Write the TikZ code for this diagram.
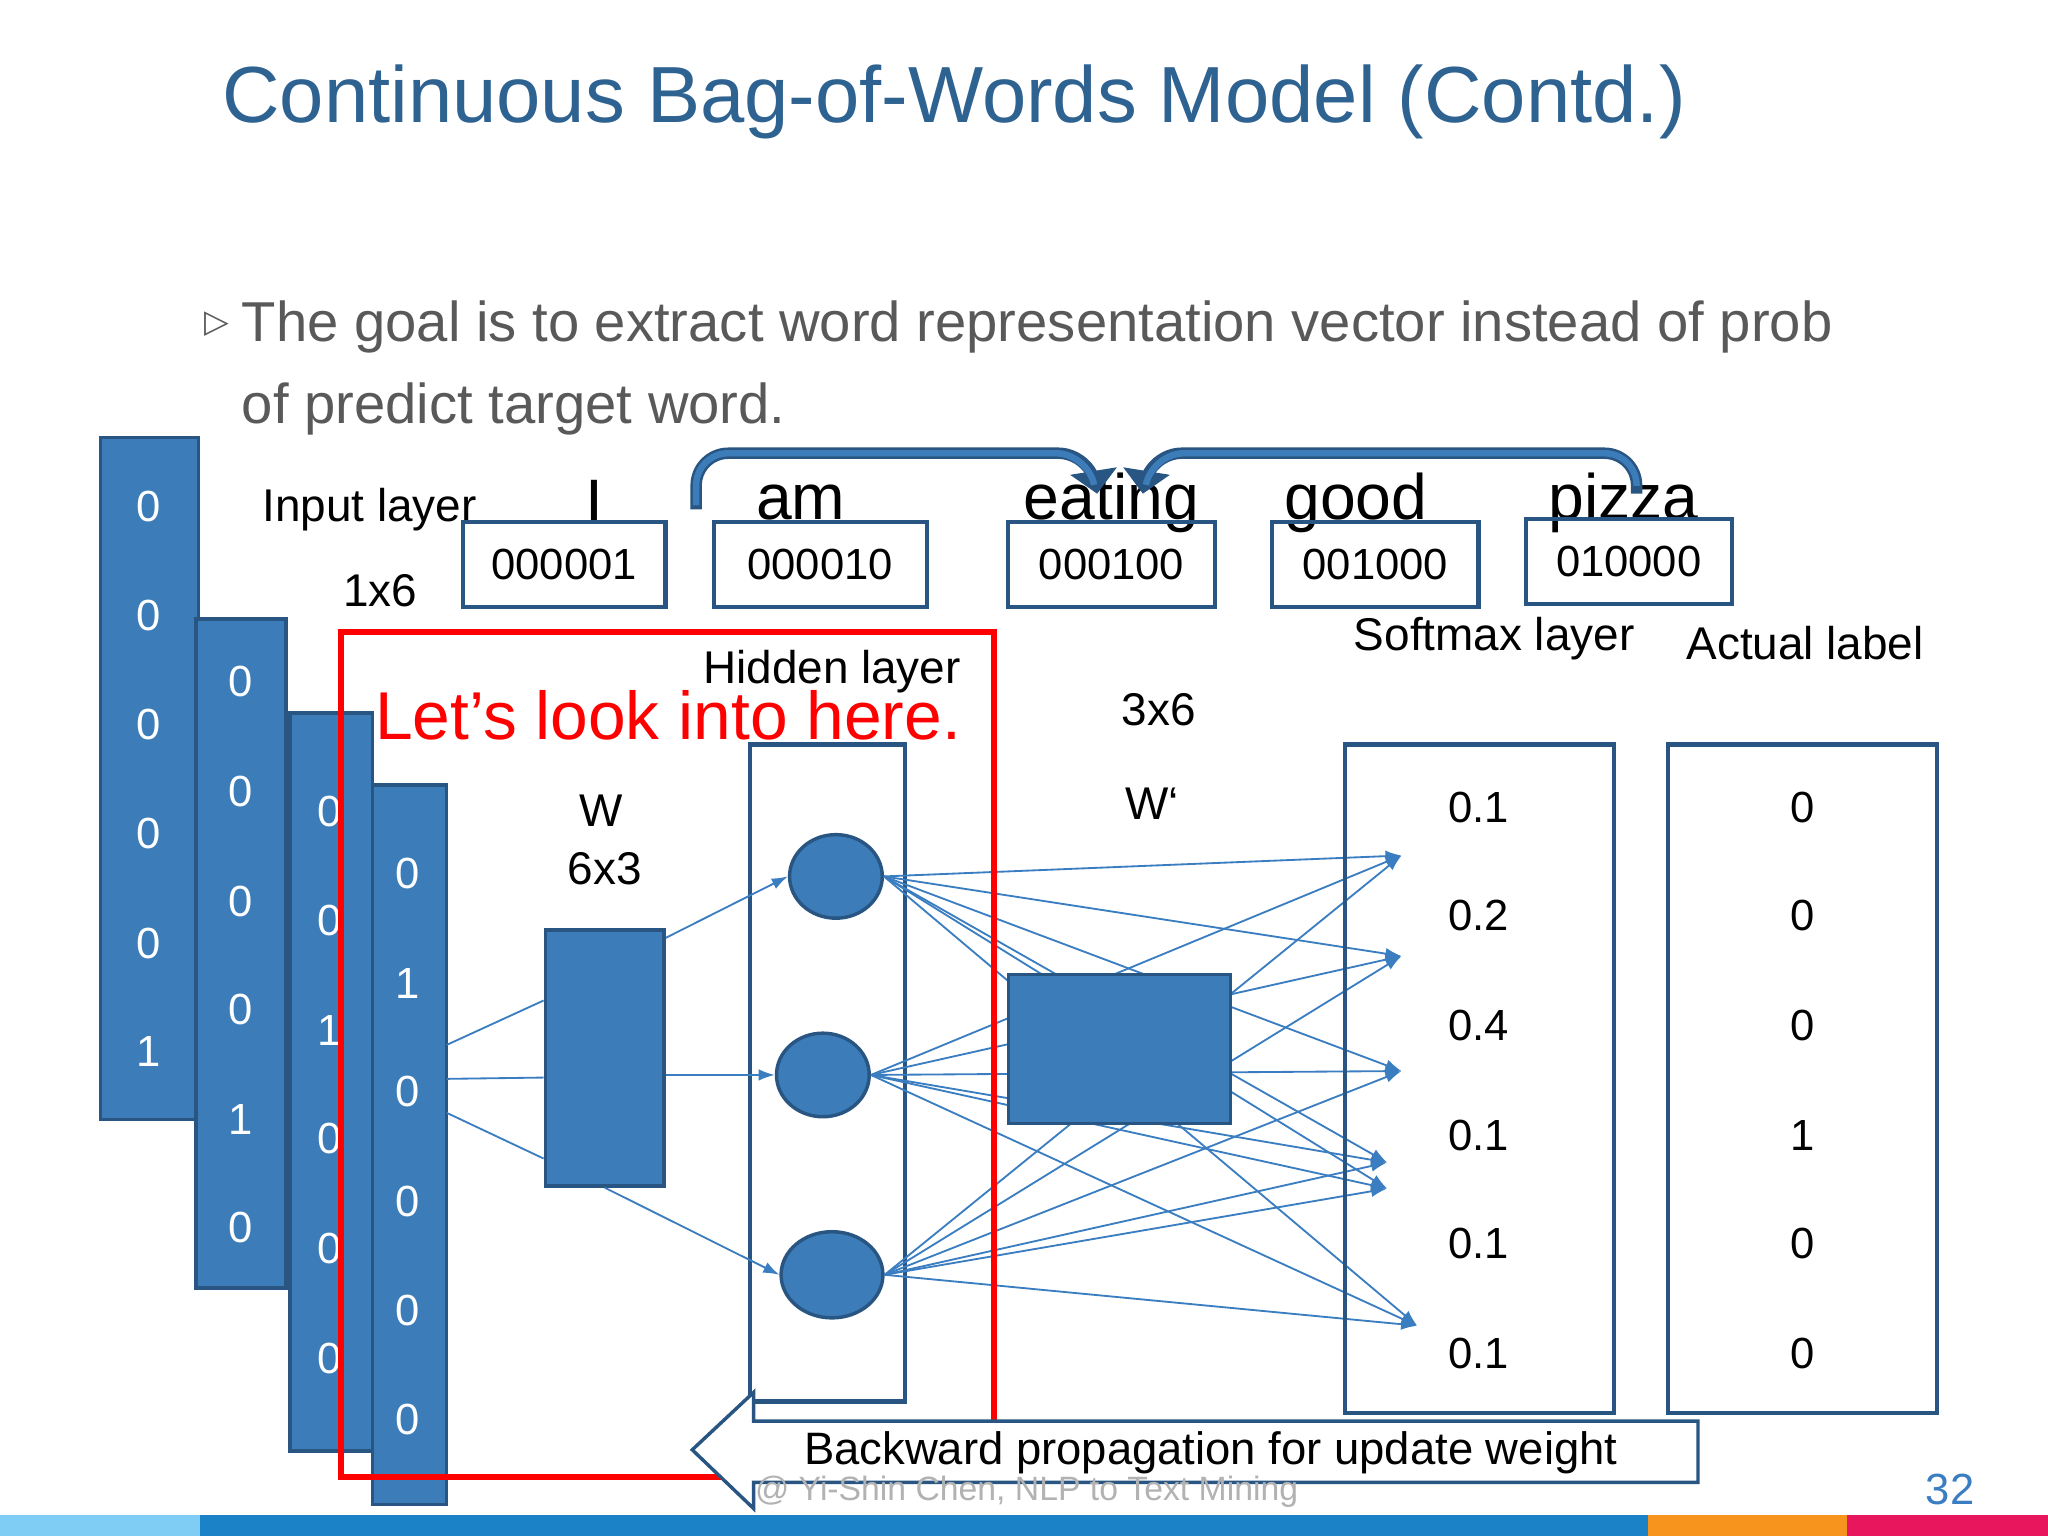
\documentclass[tikz,border=0pt]{standalone}
\usepackage{fontspec}
\setmainfont{Liberation Sans}
\newfontfamily\symfont{DejaVu Sans}
\usetikzlibrary{arrows.meta,shapes.geometric}
\definecolor{tblue}{RGB}{46,98,145}
\definecolor{fillb}{RGB}{60,125,185}
\definecolor{edgeb}{RGB}{40,85,130}
\definecolor{lineb}{RGB}{58,125,192}
\definecolor{gtxt}{RGB}{89,89,89}
\definecolor{barA}{RGB}{127,204,245}
\definecolor{barB}{RGB}{27,130,200}
\definecolor{barC}{RGB}{247,148,29}
\definecolor{barD}{RGB}{232,23,93}
\tikzset{
 vec/.style={draw=edgeb,fill=fillb,line width=1.5pt},
 vtxt/.style={text=white,font=\fontsize{19}{19}\selectfont},
 codebox/.style={draw=edgeb,line width=1.8pt,minimum width=3.1cm,minimum height=1.3cm,font=\fontsize{19}{19}\selectfont},
 lbl/.style={font=\fontsize{20}{20}\selectfont},
 word/.style={font=\fontsize{28}{28}\selectfont},
 val/.style={font=\fontsize{19}{19}\selectfont},
 con/.style={draw=lineb,line width=0.8pt,-{Latex[length=7pt,width=5pt]}},
 big/.style={draw=edgeb,line width=5pt,-{Triangle[length=10pt,width=20pt]}},
 bigin/.style={draw=fillb,line width=2.8pt},
}
\begin{document}
\begin{tikzpicture}[x=0.02cm,y=-0.02cm]
\useasboundingbox (0,0) rectangle (1568,1176);
\fill[white] (0,0) rectangle (1568,1176);
% title
\node[anchor=west,text=tblue,font=\fontsize{34.7}{35}\selectfont] (title) at (164,78) {Continuous Bag-of-Words Model (Contd.)};
\node[text=gtxt,font=\symfont\fontsize{14}{14}\selectfont] (bul) at (166,248) {▷};
\node[anchor=west,text=gtxt,font=\fontsize{24.5}{25}\selectfont] (l1) at (179,250) {The goal is to extract word representation vector instead of prob};
\node[anchor=west,text=gtxt,font=\fontsize{24.5}{25}\selectfont] (l2) at (179,313) {of predict target word.};
% columns
\draw[vec] (77,335) rectangle (152,857);
\foreach \v/\y in {0/388,0/471,0/555,0/638,0/722,1/805}{\node[vtxt] at (114,\y) {\v};}
\draw[vec] (150,474) rectangle (219,986);
\foreach \v/\y in {0/522,0/606,0/690,0/773,1/857,0/940}{\node[vtxt] at (184,\y) {\v};}
\draw[vec] (222,546) rectangle (285,1111);
\foreach \v/\y in {0/621,0/705,1/789,0/872,0/956,0/1040}{\node[vtxt] at (252,\y) {\v};}
\draw[vec] (285,601) rectangle (342,1152);
\coordinate (c4a) at (342,800);
\coordinate (c4b) at (342,826);
\coordinate (c4c) at (342,852);
\foreach \v/\y in {0/669,1/753,0/836,0/920,0/1003,0/1087}{\node[vtxt] at (312,\y) {\v};}
% labels
\node[lbl] (inl) at (283,390) {Input layer};
\node[lbl] (ins) at (291,452) {1x6};
\foreach \w/\x in {I/455,am/613,eating/851,good/1038,pizza/1243}{\node[word] at (\x,385) {\w};}
\node[codebox] (b1) at (432,432) {000001};
\node[codebox,minimum width=3.26cm] (b2) at (628,432) {000010};
\node[codebox,minimum width=3.16cm] (b3) at (851,432) {000100};
\node[codebox,minimum width=3.16cm] (b4) at (1053,432) {001000};
\node[codebox,minimum width=3.16cm] (b5) at (1247,430) {010000};
% big curved arrows
\draw[big,rounded corners=14pt] (533,390) -- (533,347) -- (835,347) -- (840,378);
\draw[bigin,rounded corners=14pt] (533,387) -- (533,347) -- (833,347) -- (837,368);
\draw[big,rounded corners=14pt] (1253,378) -- (1253,347) -- (880,347) -- (875,378);
\draw[bigin,rounded corners=14pt] (1253,372) -- (1253,347) -- (882,347) -- (878,368);
% hidden
\node[lbl] (hl) at (637,514) {Hidden layer};
\draw[edgeb,line width=1.8pt] (574,570) rectangle (693,1073);
\node[ellipse,vec,minimum width=1.42cm,minimum height=1.28cm] (h1) at (640,671) {};
\node[ellipse,vec,minimum width=1.42cm,minimum height=1.28cm] (h2) at (630,823) {};
\node[ellipse,vec,minimum width=1.56cm,minimum height=1.32cm] (h3) at (637,976) {};
% W
\node[lbl] (wl) at (460,621) {W};
\node[lbl] (ws) at (463,665) {6x3};
\node[vec,minimum width=1.82cm,minimum height=3.92cm] (W) at (463,810) {};
\node[lbl] (w2s) at (887,543) {3x6};
\node[lbl] (w2l) at (882,615) {W‘};
% outputs
\coordinate (o1) at (1073,655);
\coordinate (o2) at (1073,732);
\coordinate (o3) at (1073,820);
\coordinate (o4) at (1062,890);
\coordinate (o5) at (1062,910);
\coordinate (o6) at (1085,1015);
\draw[draw=lineb,line width=0.8pt] (c4a) -- (W.west |- 0,766);
\draw[draw=lineb,line width=0.8pt] (c4b) -- (W.west |- 0,825);
\draw[draw=lineb,line width=0.8pt] (c4c) -- (W.west |- 0,887);
\draw[con] (W.east |- 0,718) -- (h1.west);
\draw[con] (W.east |- 0,823) -- (h2.west);
\draw[con] (W.south) -- (h3.west);
\foreach \h in {h1,h2,h3}{\foreach \o in {o1,o2,o3,o4,o5,o6}{\draw[con] (\h.east) -- (\o);}}
\node[vec,minimum width=3.4cm,minimum height=2.28cm] (W2) at (857,803) {};
% softmax
\node[lbl] (sml) at (1144,489) {Softmax layer};
\draw[edgeb,line width=1.8pt] (1030,570) rectangle (1236,1082);
\foreach \v/\y in {0.1/618,0.2/701,0.4/785,0.1/869,0.1/952,0.1/1036}{\node[val] at (1132,\y) {\v};}
\node[lbl] (all) at (1382,492) {Actual label};
\draw[edgeb,line width=1.8pt] (1277,570) rectangle (1483,1082);
\foreach \v/\y in {0/618,0/701,0/785,1/869,0/952,0/1036}{\node[val] at (1380,\y) {\v};}
% red box
\draw[red,line width=2.6pt] (261,484) rectangle (761,1131);
\node[anchor=west,text=red,font=\fontsize{29.5}{30}\selectfont] (look) at (281,548) {Let’s look into here.};
% backward arrow
\draw[edgeb,fill=white,line width=1.5pt] (530,1110) -- (577,1066) -- (577,1088) -- (1300,1088) -- (1300,1135) -- (577,1135) -- (577,1155) -- cycle;
\node[font=\fontsize{19.8}{20}\selectfont] (bp) at (927,1112) {Backward propagation for update weight};
% footer
\node[text=gray!60,font=\fontsize{14.7}{15}\selectfont] (ft) at (786,1142) {@ Yi-Shin Chen, NLP to Text Mining};
\node[text=lineb,font=\fontsize{19}{19}\selectfont] (pg) at (1493,1140) {32};
\fill[barA] (0,1160) rectangle (153,1176);
\fill[barB] (153,1160) rectangle (1262,1176);
\fill[barC] (1262,1160) rectangle (1414,1176);
\fill[barD] (1414,1160) rectangle (1568,1176);
\end{tikzpicture}
\end{document}
